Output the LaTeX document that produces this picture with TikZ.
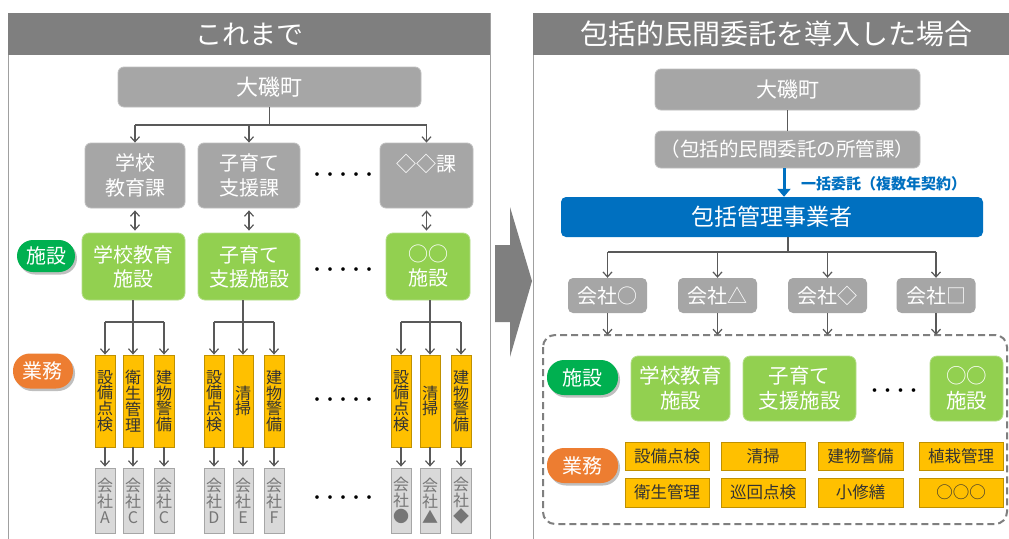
\documentclass[tikz,border=0pt]{standalone}
\usepackage{fontspec}
\setmainfont{Noto Sans CJK JP}
\usetikzlibrary{arrows.meta,shadows,calc}
\definecolor{hdrgray}{HTML}{7F7F7F}
\definecolor{panelline}{HTML}{A0A0A0}
\definecolor{boxgray}{HTML}{A6A6A6}
\definecolor{boxgrayline}{HTML}{BFBFBF}
\definecolor{lightgray}{HTML}{D9D9D9}
\definecolor{compText}{HTML}{767676}
\definecolor{lgreen}{HTML}{92D050}
\definecolor{lgreenline}{HTML}{B4DE8A}
\definecolor{sgreen}{HTML}{00B050}
\definecolor{sorange}{HTML}{ED7D31}
\definecolor{syellow}{HTML}{FFC000}
\definecolor{syellowline}{HTML}{BF9000}
\definecolor{sblue}{HTML}{0070C0}
\definecolor{lncol}{HTML}{595959}
\definecolor{txtdark}{HTML}{333333}
\newcommand\fsz[2]{\fontsize{#1}{#2}\selectfont}
\tikzset{
  hdrtext/.style={text=white, font=\fsz{27}{30}, inner sep=0},
  graybox/.style={fill=boxgray, draw=boxgrayline, line width=0.8, rounded corners=6, inner sep=0, align=center, text=white, font=\fsz{20}{25}},
  greenbox/.style={fill=lgreen, draw=lgreenline, line width=0.8, rounded corners=7, inner sep=0, align=center, text=white, font=\fsz{20}{24}},
  greenboxR/.style={greenbox, font=\fsz{20.5}{25}},
  pill/.style={rounded corners=16, inner sep=0, text=white, font=\fsz{20}{24}, drop shadow={shadow xshift=2pt, shadow yshift=-2.5pt, fill=black, opacity=0.25}},
  yvert/.style={fill=syellow, draw=syellowline, line width=0.8, inner sep=0, align=center, text=txtdark, minimum width=20, minimum height=92, font=\fsz{16}{15.8}},
  cvert/.style={fill=lightgray, draw=boxgray, line width=0.8, inner sep=0, align=center, text=compText, minimum width=20, minimum height=65, font=\fsz{16}{16}},
  yhor/.style={fill=syellow, draw=syellowline, line width=0.8, inner sep=0, text=txtdark, minimum width=84, font=\fsz{16.5}{18}},
  compR/.style={fill=boxgray, rounded corners=5, inner sep=0, text=white, minimum width=79, minimum height=35, font=\fsz{20}{24}},
  dotsnode/.style={inner sep=0, text=black, font=\fsz{13}{14}\bfseries},
  ln/.style={draw=lncol, line width=1.2},
  arr/.style={ln, -{Straight Barb[length=5pt,width=9pt]}},
  dbl/.style={ln, {Straight Barb[length=5pt,width=9pt]}-{Straight Barb[length=5pt,width=9pt]}},
}
\begin{document}
\begin{tikzpicture}[x=1pt,y=-1pt]
\useasboundingbox (0,0) rectangle (1009,538);
\fill[white] (0,0) rectangle (1009,538);
\clip (0,0) rectangle (1009,538);

% ---------- panels ----------
\draw[panelline, line width=1] (8,13) rectangle (490,560);
\fill[hdrgray] (8,13) rectangle (490,55);
\node[hdrtext] (hL) at (249,34) {これまで};

\draw[panelline, line width=1] (533,13) rectangle (1030,560);
\fill[hdrgray] (533,13) rectangle (1030,55);
\node[hdrtext, font=\fsz{28}{30}] (hR) at (776,34) {包括的民間委託を導入した場合};

% big arrow
\fill[hdrgray] (495,245) -- (510,245) -- (510,207) -- (532,281) -- (510,357) -- (510,322) -- (495,322) -- cycle;

% ---------- left panel ----------
\node[graybox, minimum width=303, minimum height=40, font=\fsz{22}{26}] (tL) at (269.5,87) {大磯町};
\node[graybox, minimum width=100, minimum height=65] (d1) at (135,175.5) {学校\\教育課};
\node[graybox, minimum width=102, minimum height=65] (d2) at (249,175.5) {子育て\\支援課};
\node[graybox, minimum width=93, minimum height=65] (d3) at (426.5,175.5) {◇◇課\\\mbox{}};
\node[dotsnode] (dtA) at (343,176) {・・・・・};

\coordinate (bL) at (269.5,125);
\draw[ln] (tL.south) -- (bL);
\draw[ln] (d1.north |- bL) -- (d3.north |- bL);
\draw[arr] (d1.north |- bL) -- (d1.north);
\draw[arr] (d2.north |- bL) -- (d2.north);
\draw[arr] (d3.north |- bL) -- (d3.north);

\node[pill, fill=sgreen, minimum width=58, minimum height=32] (pSL) at (46,256) {施設};
\node[greenbox, minimum width=103, minimum height=67] (f1) at (133.5,266.5) {学校教育\\施設};
\node[greenbox, minimum width=102, minimum height=67] (f2) at (249,266.5) {子育て\\支援施設};
\node[greenbox, minimum width=84, minimum height=67] (f3) at (428,266.5) {○○\\施設};
\node[dotsnode] (dtB) at (343,271) {・・・・・};

\draw[dbl] ([yshift=-2pt]d1.south) -- ([yshift=2pt]d1.south |- f1.north);
\draw[dbl] ([yshift=-2pt]d2.south) -- ([yshift=2pt]d2.south |- f2.north);
\draw[dbl] ([yshift=-2pt]d3.south) -- ([yshift=2pt]d3.south |- f3.north);

\node[pill, fill=sorange, minimum width=60, minimum height=35, rounded corners=17] (pGL) at (43,371) {業務};

% yellow vertical boxes
\node[yvert] (y1a) at (105,401) {設\\備\\点\\検};
\node[yvert] (y1b) at (133,401) {衛\\生\\管\\理};
\node[yvert] (y1c) at (164,401) {建\\物\\警\\備};
\node[yvert] (y2a) at (214,401) {設\\備\\点\\検};
\node[yvert] (y2b) at (243,401) {清\\掃};
\node[yvert] (y2c) at (274,401) {建\\物\\警\\備};
\node[yvert] (y3a) at (401,401) {設\\備\\点\\検};
\node[yvert] (y3b) at (430,401) {清\\掃};
\node[yvert] (y3c) at (461,401) {建\\物\\警\\備};
\node[dotsnode] (dtC) at (343,401) {・・・・・};

% company vertical boxes
\node[cvert] (c1a) at (105,500.5) {会\\社\\A};
\node[cvert] (c1b) at (133,500.5) {会\\社\\C};
\node[cvert] (c1c) at (164,500.5) {会\\社\\C};
\node[cvert] (c2a) at (214,500.5) {会\\社\\D};
\node[cvert] (c2b) at (243,500.5) {会\\社\\E};
\node[cvert] (c2c) at (274,500.5) {会\\社\\F};
\node[cvert] (c3a) at (401,500.5) {会\\社\\●};
\node[cvert] (c3b) at (430,500.5) {会\\社\\▲};
\node[cvert] (c3c) at (461,500.5) {会\\社\\◆};
\node[dotsnode] (dtD) at (343,499) {・・・・・};

% branches green -> yellow
\coordinate (gL) at (0,322);
\draw[ln] (f1.south -| y1b.north) -- (y1b.north |- gL);
\draw[ln] (y1a.north |- gL) -- (y1c.north |- gL);
\draw[arr] (y1a.north |- gL) -- (y1a.north);
\draw[arr] (y1b.north |- gL) -- (y1b.north);
\draw[arr] (y1c.north |- gL) -- (y1c.north);
\draw[ln] (f2.south -| y2b.north) -- (y2b.north |- gL);
\draw[ln] (y2a.north |- gL) -- (y2c.north |- gL);
\draw[arr] (y2a.north |- gL) -- (y2a.north);
\draw[arr] (y2b.north |- gL) -- (y2b.north);
\draw[arr] (y2c.north |- gL) -- (y2c.north);
\draw[ln] (f3.south -| y3b.north) -- (y3b.north |- gL);
\draw[ln] (y3a.north |- gL) -- (y3c.north |- gL);
\draw[arr] (y3a.north |- gL) -- (y3a.north);
\draw[arr] (y3b.north |- gL) -- (y3b.north);
\draw[arr] (y3c.north |- gL) -- (y3c.north);

% yellow -> company
\foreach \g in {1,2,3}{
  \foreach \s in {a,b,c}{
    \draw[arr] (y\g\s.south) -- ([yshift=1pt]c\g\s.north);
  }
}

% ---------- right panel ----------
\node[graybox, minimum width=265, minimum height=41, font=\fsz{21}{25}] (tR) at (787.5,89.5) {大磯町};
\node[graybox, minimum width=265, minimum height=37, font=\fsz{19.5}{24}] (kR) at (787.5,149.5) {（包括的民間委託の所管課）};
\draw[ln] (tR.south) -- (kR.north);

\node[fill=sblue, rounded corners=5, inner sep=0, text=white, minimum width=422, minimum height=40, font=\fsz{23}{26}] (mR) at (772,217) {包括管理事業者};
\draw[sblue, line width=3, -{Triangle[length=8pt,width=13pt]}] (kR.south -| 784,0) -- (mR.north -| 784,0);
\node[anchor=west, inner sep=0, text=sblue, font=\fsz{15}{18}\bfseries] (lblR) at (801,184) {一括委託（複数年契約）};

\node[compR] (k1) at (607.5,295.5) {会社○};
\node[compR] (k2) at (717.5,295.5) {会社△};
\node[compR] (k3) at (827.5,295.5) {会社◇};
\node[compR] (k4) at (936,295.5) {会社□};

\coordinate (bR) at (0,252);
\draw[ln] (mR.south -| 788,0) -- (788,252);
\draw[ln] (k1.north |- bR) -- (k4.north |- bR);
\draw[arr] (k1.north |- bR) -- (k1.north);
\draw[arr] (k2.north |- bR) -- (k2.north);
\draw[arr] (k3.north |- bR) -- (k3.north);
\draw[arr] (k4.north |- bR) -- (k4.north);

% dashed area
\coordinate (dsTL) at (543,335);
\coordinate (dsBR) at (1007,524);
\draw[hdrgray, line width=2, dash pattern=on 7pt off 4pt, rounded corners=12] (dsTL) rectangle (dsBR);
\draw[arr] (k1.south) -- (k1.south |- dsTL);
\draw[arr] (k2.south) -- (k2.south |- dsTL);
\draw[arr] (k3.south) -- (k3.south |- dsTL);
\draw[arr] (k4.south) -- (k4.south |- dsTL);

\node[pill, fill=sgreen, minimum width=71, minimum height=35, rounded corners=17] (pSR) at (582.5,377.5) {施設};
\node[pill, fill=sorange, minimum width=71, minimum height=35, rounded corners=17] (pGR) at (582.5,465.5) {業務};

\node[greenboxR, minimum width=99, minimum height=65] (g1) at (680.5,388.5) {学校教育\\施設};
\node[greenboxR, minimum width=113, minimum height=65] (g2) at (799.5,388.5) {子育て\\支援施設};
\node[greenboxR, minimum width=73, minimum height=65] (g3) at (966.5,388.5) {○○\\施設};
\node[dotsnode] (dtR) at (894,392) {・・・・};

\node[yhor, minimum height=28] (r1a) at (667,456) {設備点検};
\node[yhor, minimum height=28] (r1b) at (763,456) {清掃};
\node[yhor, minimum height=28, minimum width=85] (r1c) at (860.5,456) {建物警備};
\node[yhor, minimum height=28] (r1d) at (961,456) {植栽管理};
\node[yhor, minimum height=29] (r2a) at (667,492.5) {衛生管理};
\node[yhor, minimum height=29] (r2b) at (763,492.5) {巡回点検};
\node[yhor, minimum height=29, minimum width=85] (r2c) at (860.5,492.5) {小修繕};
\node[yhor, minimum height=29] (r2d) at (961,492.5) {○○○};
\end{tikzpicture}
\end{document}
